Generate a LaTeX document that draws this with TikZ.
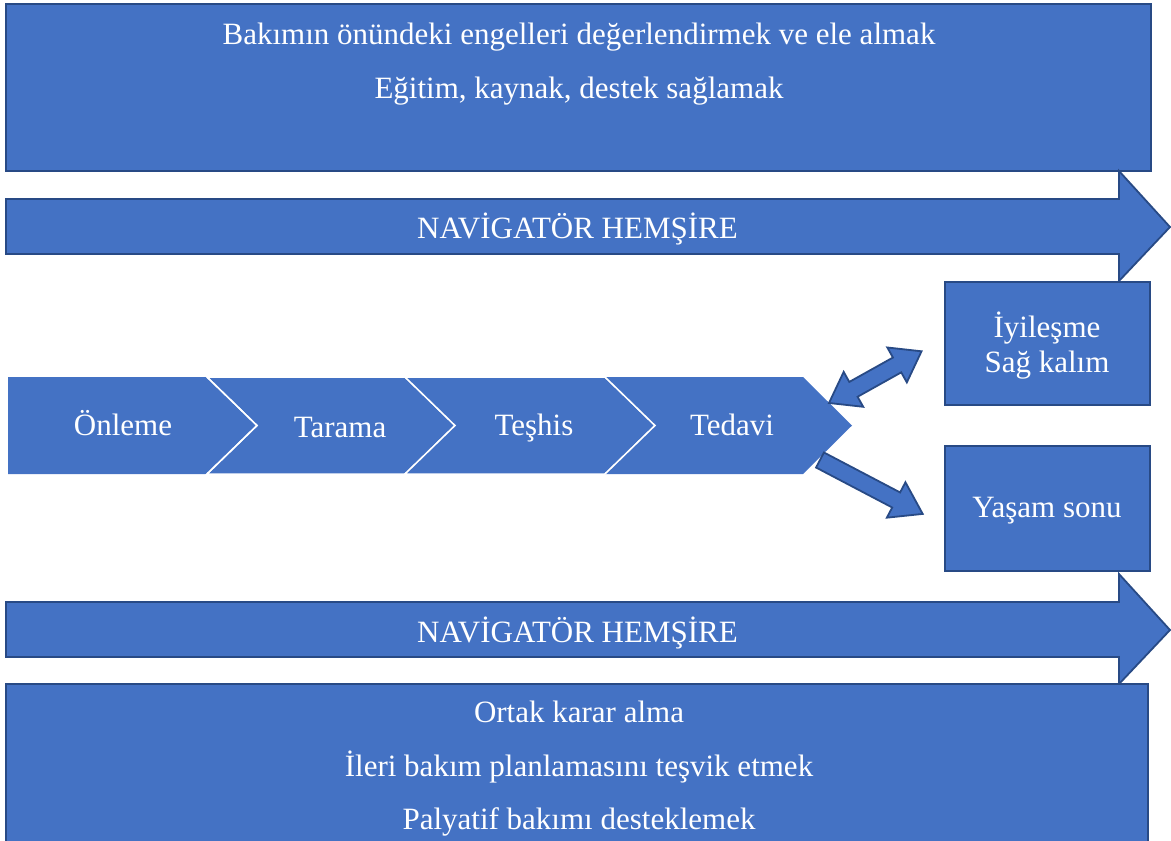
\documentclass[tikz,border=0pt]{standalone}
\usepackage{fontspec}
\setmainfont{Liberation Serif}
\definecolor{fillblue}{HTML}{4472C4}
\definecolor{edgeblue}{HTML}{284A85}
\tikzset{
  shapebox/.style={fill=fillblue, draw=edgeblue, line width=1.8pt, line join=miter},
  stagebox/.style={fill=fillblue, draw=white, line width=1.5pt},
  wtext/.style={text=white, font=\fontsize{31}{35}\selectfont, inner sep=0pt, anchor=base},
}
\begin{document}
\begin{tikzpicture}[x=1pt, y=-1pt]
\useasboundingbox (0,0) rectangle (1171,841);
% top box
\draw[shapebox] (6,4) rectangle (1151,171);
\node[wtext] (t1) at (579,44) {Bakımın önündeki engelleri değerlendirmek ve ele almak};
\node[wtext] (t2) at (579,98) {Eğitim, kaynak, destek sağlamak};
% top arrow
\draw[shapebox] (6,199) -- (1119,199) -- (1119,171) -- (1170,227) -- (1119,281) -- (1119,254) -- (6,254) -- cycle;
\node[wtext] (nav1) at (577.5,238) {NAVİGATÖR HEMŞİRE};
% right boxes
\draw[shapebox] (945,282) rectangle (1150,405);
\node[wtext] (heal1) at (1047,337) {İyileşme};
\node[wtext] (heal2) at (1047,372) {Sağ kalım};
\draw[shapebox] (945,446) rectangle (1150,571);
\node[wtext] (eol) at (1047,517) {Yaşam sonu};
% stages
\fill[fillblue] (8,377) -- (207,377) -- (257,425.5) -- (207,474) -- (8,474) -- cycle;
\draw[stagebox] (207,377) -- (405,377) -- (455,425.5) -- (405,474) -- (207,474) -- (257,425.5) -- cycle;
\draw[stagebox] (405,377) -- (605,377) -- (655,425.5) -- (605,474) -- (405,474) -- (455,425.5) -- cycle;
\fill[fillblue] (605,377) -- (803,377) -- (852,425.5) -- (803,474) -- (605,474) -- (655,425.5) -- cycle;
\draw[white, line width=1.5pt] (207,377) -- (257,425.5) -- (207,474);
\draw[white, line width=1.5pt] (605,377) -- (655,425.5) -- (605,474);
\node[wtext] (s1) at (123,435) {Önleme};
\node[wtext] (s2) at (340,437) {Tarama};
\node[wtext] (s3) at (534,435) {Teşhis};
\node[wtext] (s4) at (732,435) {Tedavi};
% double arrow Tedavi <-> İyileşme
\begin{scope}[shift={(829,403)}, rotate=29.2]
\draw[shapebox] (0,0) -- (28,20) -- (28,8.5) -- (78,8.5) -- (78,20) -- (106,0) -- (78,-20) -- (78,-8.5) -- (28,-8.5) -- (28,-20) -- cycle;
\end{scope}
% single arrow Tedavi -> Yaşam sonu
\begin{scope}[shift={(820,460)}, rotate=-27.7]
\draw[shapebox] (0,8.5) -- (86,8.5) -- (86,20) -- (116,0) -- (86,-20) -- (86,-8.5) -- (0,-8.5) -- cycle;
\end{scope}
% bottom arrow
\draw[shapebox] (6,602) -- (1119,602) -- (1119,574) -- (1170,630) -- (1119,684) -- (1119,657) -- (6,657) -- cycle;
\node[wtext] (nav2) at (577.5,642) {NAVİGATÖR HEMŞİRE};
% bottom box
\draw[shapebox] (6,684) rectangle (1148,850);
\node[wtext] (b1) at (579,722) {Ortak karar alma};
\node[wtext] (b2) at (579,776) {İleri bakım planlamasını teşvik etmek};
\node[wtext] (b3) at (579,829) {Palyatif bakımı desteklemek};
\end{tikzpicture}
\end{document}
